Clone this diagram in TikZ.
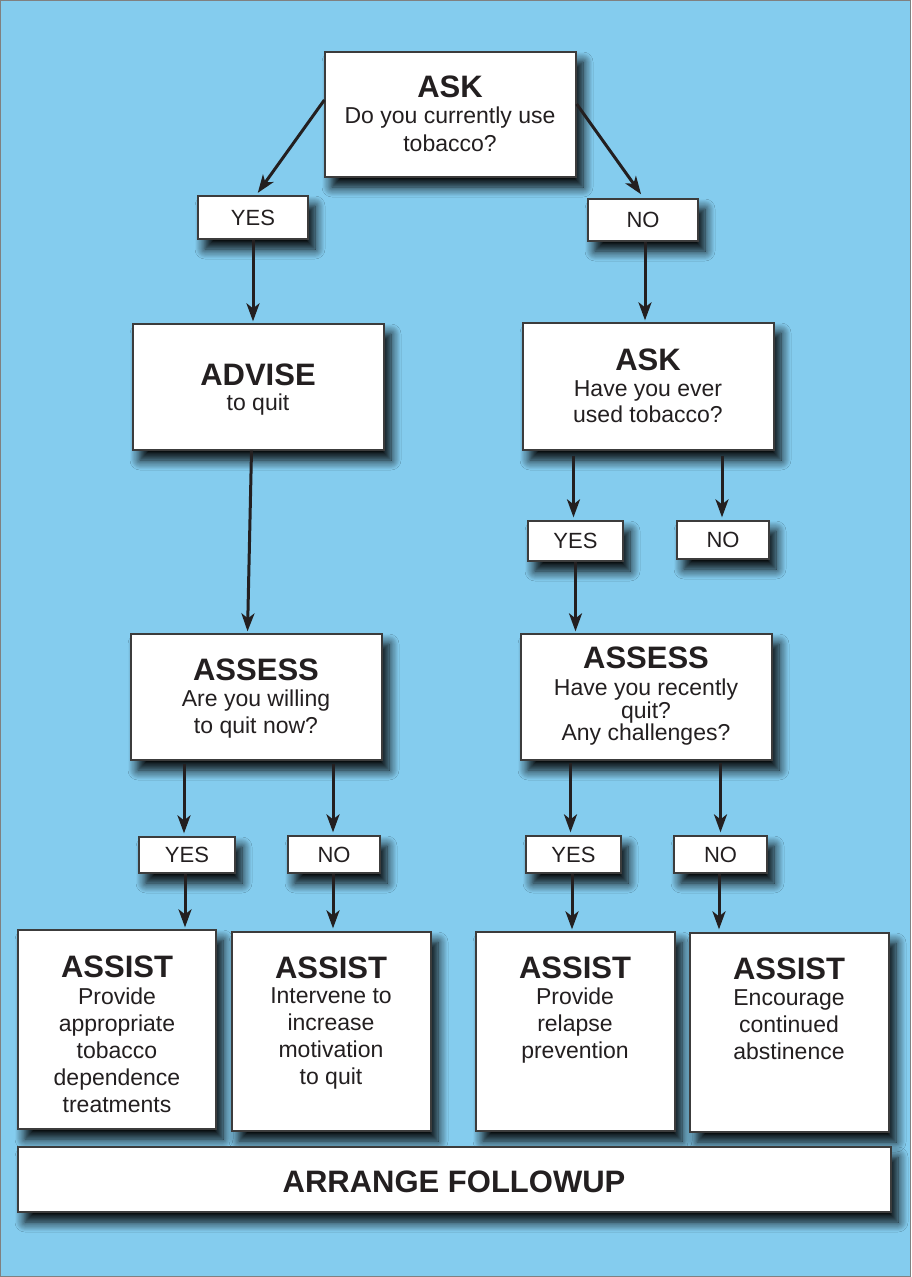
\documentclass[tikz,border=0pt]{standalone}
\usepackage{fontspec}
\setmainfont{Liberation Sans}
\usetikzlibrary{arrows.meta,shadows.blur}
\definecolor{bg}{HTML}{84CCEE}
\definecolor{txt}{HTML}{231F20}
\definecolor{edge}{HTML}{3C3C3C}
\begin{document}
\begin{tikzpicture}[x=1pt,y=-1pt,
  box/.style={draw=edge, line width=1.3pt, fill=white, inner sep=0pt,
    blur shadow={shadow xshift=7pt, shadow yshift=-10pt, shadow blur radius=10pt, shadow opacity=100, shadow blur steps=10}},
  lab/.style={box, font=\fontsize{22}{22}\selectfont, text=txt},
  ttl/.style={font=\fontsize{31}{31}\selectfont\bfseries, text=txt, anchor=base, inner sep=0pt},
  body/.style={font=\fontsize{23}{27.5}\selectfont, text=txt, align=center, anchor=north, inner sep=0pt,
    execute at begin node=\rule{0pt}{16.7pt}},
  arr/.style={draw=txt, line width=3pt, -{Stealth[length=18pt,width=13pt,inset=5pt]}}
]
\path[use as bounding box] (0,0) rectangle (911,1277);
\draw[fill=bg, draw=gray, line width=1pt] (0.5,0.5) rectangle (910,1276);

% boxes
\node[box, minimum width=251pt, minimum height=125pt] (ask1) at (450.5,114.5) {};
\node[lab, minimum width=110pt, minimum height=43pt] (yes1) at (253,217.5) {YES};
\node[lab, minimum width=110pt, minimum height=42pt] (no1) at (643,220) {NO};
\node[box, minimum width=251pt, minimum height=126pt] (advise) at (258.5,387) {};
\node[box, minimum width=251pt, minimum height=127pt] (ask2) at (648.5,386.5) {};
\node[lab, minimum width=95pt, minimum height=40pt] (yes2) at (575.5,541) {YES};
\node[lab, minimum width=92pt, minimum height=38pt] (no2) at (723,540) {NO};
\node[box, minimum width=251pt, minimum height=126pt] (assessL) at (256.5,697) {};
\node[box, minimum width=251pt, minimum height=126pt] (assessR) at (646.5,697) {};
\node[lab, minimum width=96pt, minimum height=36pt] (yes3) at (187,855) {YES};
\node[lab, minimum width=92pt, minimum height=37pt] (no3) at (334,854.5) {NO};
\node[lab, minimum width=95pt, minimum height=37pt] (yes4) at (573.5,854.5) {YES};
\node[lab, minimum width=93pt, minimum height=37pt] (no4) at (720.5,854.5) {NO};
\node[box, minimum width=198pt, minimum height=199pt] (assist1) at (117,1029.5) {};
\node[box, minimum width=199pt, minimum height=199pt] (assist2) at (331.5,1031.5) {};
\node[box, minimum width=199pt, minimum height=199pt] (assist3) at (575.5,1031.5) {};
\node[box, minimum width=199pt, minimum height=199pt] (assist4) at (789.5,1032.5) {};
\node[box, minimum width=873pt, minimum height=65pt] (arrange) at (454.5,1179.5) {};

% texts
\node[ttl] (t1) at (450,97) {ASK};
\node[body, font=\fontsize{23}{28}\selectfont] (b1) at (450,107) {Do you currently use\\tobacco?};
\node[ttl] (t2) at (258,385) {ADVISE};
\node[body] (b2) at (258,394) {to quit};
\node[ttl] (t3) at (648,370) {ASK};
\node[body, font=\fontsize{23}{26}\selectfont] (b3) at (648,380) {Have you ever\\used tobacco?};
\node[ttl] (t4) at (256,680) {ASSESS};
\node[body, font=\fontsize{23}{26.5}\selectfont] (b4) at (256,690) {Are you willing\\to quit now?};
\node[ttl] (t5) at (646,668) {ASSESS};
\node[body, font=\fontsize{23}{22.5}\selectfont] (b5) at (646,679) {Have you recently\\quit?\\Any challenges?};
\node[ttl] (t6) at (117,977) {ASSIST};
\node[body, font=\fontsize{23}{27}\selectfont] (b6) at (117,988) {Provide\\appropriate\\tobacco\\dependence\\treatments};
\node[ttl] (t7) at (331,978) {ASSIST};
\node[body, font=\fontsize{23}{27}\selectfont] (b7) at (331,987) {Intervene to\\increase\\motivation\\to quit};
\node[ttl] (t8) at (575,978) {ASSIST};
\node[body, font=\fontsize{23}{27}\selectfont] (b8) at (575,988) {Provide\\relapse\\prevention};
\node[ttl] (t9) at (789,979) {ASSIST};
\node[body, font=\fontsize{23}{27}\selectfont] (b9) at (789,989) {Encourage\\continued\\abstinence};
\node[ttl] (t10) at (454,1192) {ARRANGE FOLLOWUP};

% arrows
\draw[arr, shorten >=3pt] ([yshift=14.5pt]ask1.west) -- ([xshift=3pt]yes1.north);
\draw[arr, shorten >=5pt] ([yshift=10.5pt]ask1.east) -- ([xshift=1pt]no1.north);
\draw[arr, shorten >=2pt] (yes1.south) -- (yes1.south |- advise.north);
\draw[arr, shorten >=2pt] ([xshift=2pt]no1.south) -- ([xshift=2pt]no1.south |- ask2.north);
\draw[arr, shorten >=2pt] ([xshift=-7pt]advise.south) -- ([xshift=-9pt]assessL.north);
\draw[arr, shorten <=5pt, shorten >=3pt] ([xshift=-2pt]yes2.north |- ask2.south) -- ([xshift=-2pt]yes2.north);
\draw[arr, shorten <=5pt, shorten >=3pt] ([xshift=-1pt]no2.north |- ask2.south) -- ([xshift=-1pt]no2.north);
\draw[arr, shorten >=2pt] (yes2.south) -- (yes2.south |- assessR.north);
\draw[arr, shorten <=3pt, shorten >=3pt] ([xshift=-3pt]yes3.north |- assessL.south) -- ([xshift=-3pt]yes3.north);
\draw[arr, shorten <=3pt, shorten >=3pt] ([xshift=-1pt]no3.north |- assessL.south) -- ([xshift=-1pt]no3.north);
\draw[arr, shorten <=2pt, shorten >=3pt] ([xshift=-3pt]yes4.north |- assessR.south) -- ([xshift=-3pt]yes4.north);
\draw[arr, shorten <=2pt, shorten >=3pt] (no4.north |- assessR.south) -- (no4.north);
\draw[arr, shorten >=2pt] ([xshift=-2pt]yes3.south) -- ([xshift=-2pt]yes3.south |- assist1.north);
\draw[arr, shorten >=3pt] ([xshift=-1pt]no3.south) -- ([xshift=-1pt]no3.south |- assist2.north);
\draw[arr, shorten >=2pt] ([xshift=-1.5pt]yes4.south) -- ([xshift=-1.5pt]yes4.south |- assist3.north);
\draw[arr, shorten >=3pt] ([xshift=-1.5pt]no4.south) -- ([xshift=-1.5pt]no4.south |- assist4.north);
\end{tikzpicture}
\end{document}
